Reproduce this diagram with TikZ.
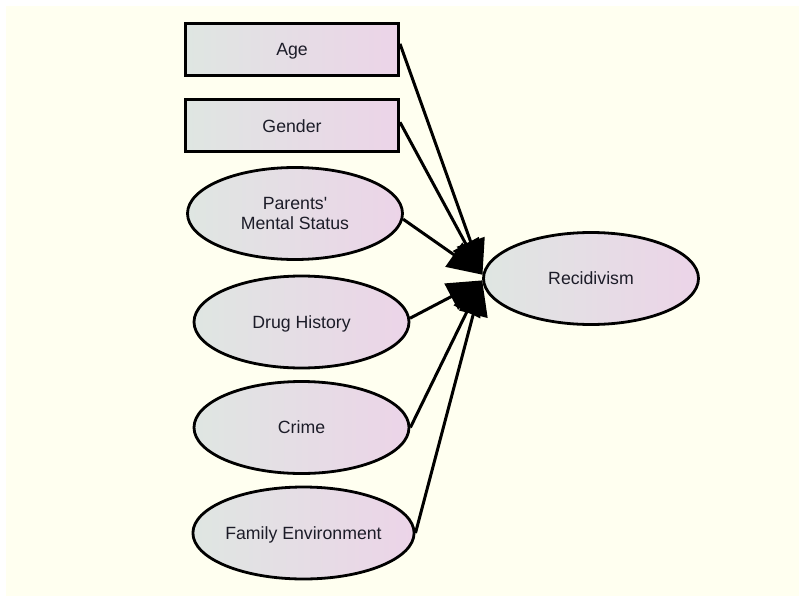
\documentclass[tikz,border=0pt]{standalone}
\usepackage{fontspec}
\setmainfont{Liberation Sans}
\usetikzlibrary{arrows.meta,shapes.geometric}
\definecolor{canvas}{RGB}{255,255,240}
\definecolor{shadeL}{RGB}{223,230,226}
\definecolor{shadeR}{RGB}{236,212,232}
\definecolor{ink}{RGB}{28,28,40}
\begin{document}
\begin{tikzpicture}[x=1pt,y=-1pt,
  every node/.style={font=\fontsize{17.7}{20.5}\selectfont, text=ink, align=center, inner sep=0pt,
                     text height=12.7pt, text depth=0pt},
  factor/.style={draw=black, line width=3pt, left color=shadeL, right color=shadeR,
                 minimum width=213pt, minimum height=52pt},
  latent/.style={ellipse, draw=black, line width=2.8pt, left color=shadeL, right color=shadeR,
                 minimum width=215pt, minimum height=92pt},
  twoline/.style={text height={}, text depth={}},
  link/.style={line width=3pt, -{Triangle[length=35pt,width=29pt]}}]
  % canvas
  \useasboundingbox (0,0) rectangle (799,596);
  \fill[white] (0,0) rectangle (799,596);
  \fill[canvas] (6,6) rectangle (799,596);

  % observed predictors
  \node[factor] (age)    at (292,49.5) {Age};
  \node[factor] (gender) at (292,126)  {Gender};

  % latent predictors
  \node[latent, twoline] (parents) at (295,213.5) {Parents\textquotesingle\\Mental Status};
  \node[latent] (drug)    at (301.5,322)   {Drug History};
  \node[latent] (crime)   at (301.5,427.5) {Crime};
  \node[latent] (family)  at (303.5,533)   {Family Environment};

  % outcome
  \node[latent] (rec) at (591,278.5) {Recidivism};

  % paths
  \draw[link] (age.3.5)     -- (rec.178);
  \draw[link] (gender.2)    -- (rec.178);
  \draw[link] (parents.-3)  -- (rec.178);
  \draw[link] (drug.2)      -- (rec.181);
  \draw[link] (crime.east)  -- (rec.181);
  \draw[link] (family.east) -- (rec.181);
\end{tikzpicture}
\end{document}
